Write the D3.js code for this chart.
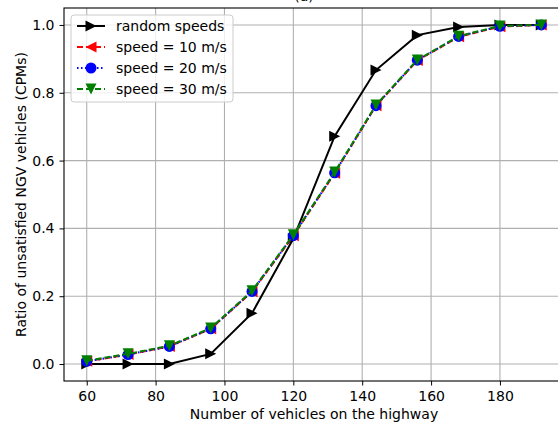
<!DOCTYPE html>
<html>
<head>
<meta charset="utf-8">
<script src="https://cdn.jsdelivr.net/npm/d3@7"></script>
<style>
  body { margin: 0; background: #fff; }
  svg { display: block; font-family: "DejaVu Sans", sans-serif; }
  .tick text { font-size: 14px; fill: #000; }
</style>
</head>
<body>
<div id="chart"></div>
<script>
(function () {
    /* ----------------------- Data ----------------------- */
    const vehicles = [60, 72, 84, 96, 108, 120, 132, 144, 156, 168, 180, 192];
    const randomSpeeds = [0, 0, 0, 0.03, 0.15, 0.37, 0.672, 0.867, 0.97, 0.994, 1.0, 1.0];
    const speed10 = [0.008, 0.028, 0.052, 0.104, 0.213, 0.378, 0.563, 0.762, 0.895, 0.965, 0.995, 1.0];
    const speed20 = [0.008, 0.028, 0.052, 0.104, 0.214, 0.379, 0.564, 0.762, 0.896, 0.966, 0.996, 1.0];
    const speed30 = [0.01, 0.03, 0.054, 0.106, 0.216, 0.381, 0.566, 0.764, 0.897, 0.967, 0.997, 1.0];
    const xTicks = [60, 80, 100, 120, 140, 160, 180];
    const yTicks = [0, 0.2, 0.4, 0.6, 0.8, 1.0];

    const series = [
        { name: "random speeds", values: randomSpeeds, color: "#000000", dash: null, marker: "right" },
        { name: "speed = 10 m/s", values: speed10, color: "#ff0000", dash: "6,3", marker: "left" },
        { name: "speed = 20 m/s", values: speed20, color: "#0000ff", dash: "1.5,2.5", marker: "circle" },
        { name: "speed = 30 m/s", values: speed30, color: "#008000", dash: "6,3", marker: "down" },
    ];

    /* ----------------------- Dimensions ----------------------- */
    const W = 558, H = 423;
    const margin = { top: 8, left: 64 };
    const width = 500;   // right spine falls just outside the window
    const height = 373;

    const svg = d3.select("#chart")
        .append("svg")
        .attr("width", W)
        .attr("height", H);

    const g = svg.append("g")
        .attr("transform", `translate(${margin.left},${margin.top})`);

    /* ----------------------- Scales ----------------------- */
    const pad = (192 - 60) * 0.05;
    const x = d3.scaleLinear().domain([60 - pad, 192 + pad]).range([0, width]);
    const y = d3.scaleLinear().domain([-0.05, 1.05]).range([height, 0]);

    // grid
    g.append("g").selectAll("line")
        .data(xTicks).enter().append("line")
        .attr("x1", d => x(d)).attr("x2", d => x(d))
        .attr("y1", 0).attr("y2", height)
        .attr("stroke", "#b0b0b0").attr("stroke-width", 1.1);
    g.append("g").selectAll("line")
        .data(yTicks).enter().append("line")
        .attr("x1", 0).attr("x2", width)
        .attr("y1", d => y(d)).attr("y2", d => y(d))
        .attr("stroke", "#b0b0b0").attr("stroke-width", 1.1);

    // axes
    const xAxis = g.append("g")
        .attr("transform", `translate(0,${height})`)
        .call(d3.axisBottom(x).tickValues(xTicks).tickSize(4.5).tickPadding(4).tickFormat(d3.format("d")));
    const yAxis = g.append("g")
        .call(d3.axisLeft(y).tickValues(yTicks).tickSize(4.5).tickPadding(5).tickFormat(d3.format(".1f")));
    [xAxis, yAxis].forEach(a => {
        a.select(".domain").remove();
        a.selectAll(".tick line").attr("stroke", "#000").attr("stroke-width", 1);
        a.selectAll(".tick text").attr("font-family", "DejaVu Sans");
    });
    xAxis.selectAll(".tick text").attr("dy", "0.85em");

    // spines
    g.append("rect")
        .attr("x", 0).attr("y", 0)
        .attr("width", width).attr("height", height)
        .attr("fill", "none").attr("stroke", "#000").attr("stroke-width", 1.1);

    /* ----------------------- Lines and markers ----------------------- */
    const line = d3.line()
        .x((d, i) => x(vehicles[i]))
        .y(d => y(d));

    function markerPath(type, s) {
        const r = s / 2;
        if (type === "right") return `M${-r},${-r}L${r},0L${-r},${r}Z`;
        if (type === "left") return `M${r},${-r}L${-r},0L${r},${r}Z`;
        if (type === "down") return `M${-r},${-r}L${r},${-r}L0,${r}Z`;
        return d3.symbol(d3.symbolCircle, Math.PI * r * r)();
    }

    series.forEach(s => {
        g.append("path")
            .datum(s.values)
            .attr("fill", "none")
            .attr("stroke", s.color)
            .attr("stroke-width", 2)
            .attr("stroke-dasharray", s.dash)
            .attr("d", line);

        g.append("g").selectAll("path")
            .data(s.values).enter().append("path")
            .attr("transform", (d, i) => `translate(${x(vehicles[i])},${y(d)})`)
            .attr("d", markerPath(s.marker, 11))
            .attr("fill", s.color);
    });

    /* ----------------------- Legend ----------------------- */
    const legend = g.append("g").attr("transform", "translate(7,7)");
    legend.append("rect")
        .attr("width", 162).attr("height", 87)
        .attr("rx", 3)
        .attr("fill", "#fff").attr("fill-opacity", 0.8)
        .attr("stroke", "#cccccc");

    series.forEach((s, i) => {
        const ly = 11 + i * 21;
        const item = legend.append("g").attr("transform", `translate(0,${ly})`);
        item.append("line")
            .attr("x1", 6).attr("x2", 34)
            .attr("stroke", s.color).attr("stroke-width", 2)
            .attr("stroke-dasharray", s.dash);
        item.append("path")
            .attr("transform", "translate(20,0)")
            .attr("d", markerPath(s.marker, 11))
            .attr("fill", s.color);
        item.append("text")
            .attr("x", 45).attr("y", 0).attr("dy", "0.35em")
            .attr("font-size", "14px")
            .text(s.name);
    });

    /* ----------------------- Labels ----------------------- */
    svg.append("text")
        .attr("x", margin.left + x(126))
        .attr("y", 419)
        .attr("text-anchor", "middle")
        .attr("font-size", "14px")
        .text("Number of vehicles on the highway");

    svg.append("text")
        .attr("transform", `translate(26,${margin.top + height / 2}) rotate(-90)`)
        .attr("text-anchor", "middle")
        .attr("font-size", "14px")
        .text("Ratio of unsatisfied NGV vehicles (CPMs)");

    svg.append("text")
        .attr("x", 304)
        .attr("y", 1)
        .attr("text-anchor", "middle")
        .attr("font-size", "14px")
        .text("(a)");
})();
</script>
</body>
</html>
